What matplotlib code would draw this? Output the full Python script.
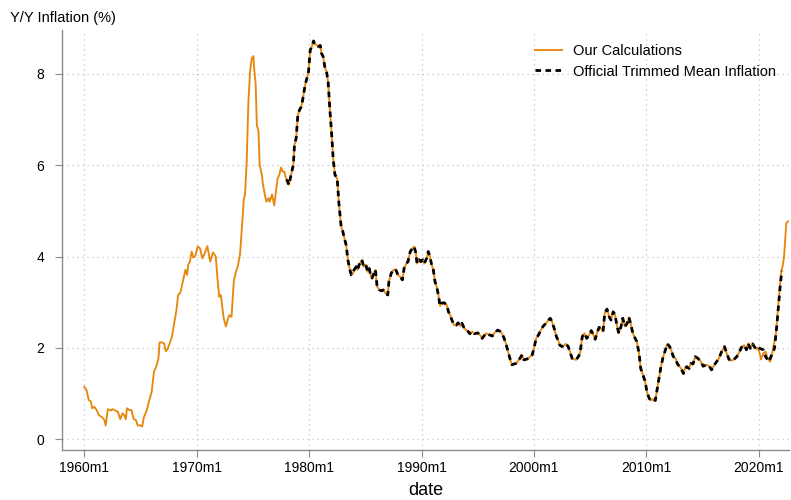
import numpy as np
import matplotlib
matplotlib.use("Agg")
import matplotlib.pyplot as plt

plt.rcParams['font.family'] = ['Liberation Sans', 'DejaVu Sans']

# our calculations (decimal year, y/y %)
ours_date = [
    1960.0, 1960.2, 1960.4, 1960.6, 1960.7, 1960.9, 1961.1, 1961.3, 1961.55, 1961.8,
    1961.9, 1962.1, 1962.4, 1962.5, 1962.7, 1963.0, 1963.2, 1963.4, 1963.55, 1963.7,
    1963.8, 1964.0, 1964.2, 1964.4, 1964.6, 1964.75, 1964.95, 1965.15, 1965.3, 1965.55,
    1965.75, 1966.0, 1966.2, 1966.4, 1966.6, 1966.7, 1966.95, 1967.1, 1967.25, 1967.4,
    1967.6, 1967.8, 1968.0, 1968.2, 1968.35, 1968.55, 1968.7, 1968.85, 1969.0, 1969.15,
    1969.25, 1969.4, 1969.55, 1969.7, 1969.85, 1970.1, 1970.3, 1970.5, 1970.7, 1970.95,
    1971.2, 1971.45, 1971.7, 1971.85, 1972.0, 1972.15, 1972.4, 1972.6, 1972.75, 1972.9,
    1973.1, 1973.3, 1973.45, 1973.65, 1973.85, 1974.0, 1974.2, 1974.3, 1974.45, 1974.6,
    1974.75, 1974.9, 1975.05, 1975.1, 1975.25, 1975.35, 1975.5, 1975.6, 1975.8, 1975.9,
    1976.1, 1976.2, 1976.4, 1976.5, 1976.7, 1976.8, 1976.9, 1977.05, 1977.2, 1977.35,
    1977.5, 1977.65, 1977.8, 1977.9, 1978.0, 1978.2, 1978.4, 1978.6, 1978.7, 1978.85,
    1979.0, 1979.15, 1979.3, 1979.4, 1979.5, 1979.65, 1979.8, 1979.95, 1980.1, 1980.25,
    1980.4, 1980.5, 1980.7, 1980.8, 1981.0, 1981.1, 1981.25, 1981.4, 1981.55, 1981.7,
    1981.85, 1982.0, 1982.15, 1982.3, 1982.5, 1982.65, 1982.85, 1983.0, 1983.1, 1983.3,
    1983.45, 1983.6, 1983.75, 1983.9, 1984.0, 1984.2, 1984.3, 1984.45, 1984.7, 1984.85,
    1985.05, 1985.2, 1985.35, 1985.5, 1985.6, 1985.75, 1985.9, 1986.05, 1986.25, 1986.45,
    1986.6, 1986.8, 1987.0, 1987.1, 1987.3, 1987.5, 1987.7, 1987.9, 1988.1, 1988.3,
    1988.45, 1988.65, 1988.8, 1989.0, 1989.2, 1989.35, 1989.5, 1989.6, 1989.8, 1989.95,
    1990.1, 1990.25, 1990.45, 1990.6, 1990.75, 1990.9, 1991.05, 1991.2, 1991.35, 1991.5,
    1991.65, 1991.8, 1992.0, 1992.25, 1992.4, 1992.55, 1992.7, 1992.9, 1993.1, 1993.25,
    1993.45, 1993.6, 1993.8, 1993.95, 1994.15, 1994.3, 1994.5, 1994.7, 1994.85, 1995.0,
    1995.2, 1995.4, 1995.55, 1995.75, 1995.9, 1996.1, 1996.3, 1996.45, 1996.6, 1996.8,
    1997.0, 1997.15, 1997.35, 1997.5, 1997.7, 1997.9, 1998.05, 1998.25, 1998.4, 1998.6,
    1998.75, 1998.95, 1999.1, 1999.3, 1999.5, 1999.65, 1999.85, 2000.0, 2000.2, 2000.4,
    2000.55, 2000.75, 2000.9, 2001.1, 2001.25, 2001.45, 2001.6, 2001.8, 2002.0, 2002.15,
    2002.3, 2002.5, 2002.7, 2002.85, 2003.05, 2003.2, 2003.4, 2003.6, 2003.75, 2003.95,
    2004.1, 2004.3, 2004.5, 2004.7, 2004.9, 2005.1, 2005.3, 2005.45, 2005.6, 2005.8,
    2005.95, 2006.15, 2006.3, 2006.5, 2006.7, 2006.85, 2007.05, 2007.2, 2007.4, 2007.55,
    2007.75, 2007.9, 2008.1, 2008.3, 2008.45, 2008.6, 2008.8, 2009.0, 2009.15, 2009.35,
    2009.5, 2009.7, 2009.9, 2010.05, 2010.25, 2010.4, 2010.6, 2010.8, 2010.95, 2011.15,
    2011.3, 2011.5, 2011.7, 2011.85, 2012.05, 2012.2, 2012.4, 2012.6, 2012.75, 2012.95,
    2013.1, 2013.3, 2013.45, 2013.6, 2013.8, 2013.95, 2014.15, 2014.35, 2014.6, 2014.85,
    2015.05, 2015.35, 2015.6, 2015.8, 2016.05, 2016.25, 2016.45, 2016.7, 2016.95, 2017.15,
    2017.35, 2017.6, 2017.8, 2018.05, 2018.3, 2018.45, 2018.7, 2018.9, 2019.05, 2019.25,
    2019.45, 2019.6, 2019.8, 2019.95, 2020.2, 2020.4, 2020.6, 2020.8, 2021.0, 2021.15,
    2021.3, 2021.5, 2021.7, 2021.85, 2022.0, 2022.15, 2022.25, 2022.35, 2022.45, 2022.6,
]
ours_val = [
    1.15, 1.08, 0.86, 0.82, 0.68, 0.71, 0.64, 0.53, 0.49, 0.42,
    0.30, 0.66, 0.63, 0.66, 0.64, 0.60, 0.44, 0.57, 0.53, 0.44,
    0.68, 0.64, 0.64, 0.44, 0.42, 0.30, 0.31, 0.28, 0.48, 0.63,
    0.82, 1.04, 1.48, 1.59, 1.77, 2.12, 2.12, 2.10, 1.93, 1.97,
    2.10, 2.25, 2.54, 2.83, 3.16, 3.21, 3.38, 3.56, 3.71, 3.60,
    3.82, 3.89, 4.11, 3.98, 4.00, 4.22, 4.18, 3.96, 4.06, 4.23,
    3.89, 4.09, 4.00, 3.52, 3.12, 3.16, 2.65, 2.47, 2.61, 2.72,
    2.68, 3.45, 3.63, 3.78, 4.03, 4.55, 5.28, 5.35, 6.08, 7.39,
    8.05, 8.34, 8.39, 8.16, 7.76, 6.88, 6.74, 6.01, 5.79, 5.57,
    5.31, 5.20, 5.28, 5.20, 5.36, 5.24, 5.12, 5.42, 5.71, 5.79,
    5.95, 5.86, 5.86, 5.75, 5.69, 5.57, 5.79, 6.01, 6.45, 6.59,
    7.10, 7.21, 7.28, 7.39, 7.54, 7.76, 7.90, 8.05, 8.52, 8.60,
    8.72, 8.65, 8.63, 8.60, 8.62, 8.45, 8.38, 8.15, 8.05, 7.80,
    7.21, 6.70, 6.12, 5.79, 5.71, 5.17, 4.66, 4.55, 4.44, 4.25,
    3.93, 3.74, 3.60, 3.63, 3.71, 3.78, 3.71, 3.82, 3.93, 3.78,
    3.82, 3.67, 3.74, 3.56, 3.53, 3.63, 3.71, 3.34, 3.27, 3.25,
    3.27, 3.20, 3.16, 3.45, 3.63, 3.71, 3.72, 3.60, 3.56, 3.49,
    3.74, 3.85, 3.89, 4.11, 4.18, 4.22, 4.07, 3.85, 3.93, 3.89,
    3.93, 3.85, 3.96, 4.11, 4.00, 3.82, 3.71, 3.45, 3.34, 3.16,
    2.92, 2.98, 2.99, 2.94, 2.79, 2.72, 2.61, 2.50, 2.50, 2.55,
    2.48, 2.54, 2.43, 2.39, 2.36, 2.31, 2.36, 2.31, 2.32, 2.33,
    2.28, 2.21, 2.26, 2.32, 2.30, 2.28, 2.26, 2.32, 2.36, 2.39,
    2.36, 2.32, 2.21, 2.10, 1.92, 1.74, 1.63, 1.65, 1.66, 1.72,
    1.77, 1.85, 1.74, 1.75, 1.77, 1.81, 1.85, 1.99, 2.21, 2.28,
    2.36, 2.45, 2.50, 2.54, 2.60, 2.65, 2.58, 2.43, 2.25, 2.17,
    2.06, 2.03, 2.06, 2.09, 2.03, 1.92, 1.77, 1.75, 1.74, 1.81,
    1.88, 2.25, 2.32, 2.21, 2.28, 2.38, 2.28, 2.19, 2.32, 2.45,
    2.43, 2.36, 2.76, 2.85, 2.68, 2.61, 2.79, 2.74, 2.47, 2.32,
    2.47, 2.65, 2.47, 2.54, 2.67, 2.54, 2.32, 2.21, 2.14, 1.88,
    1.55, 1.41, 1.26, 1.04, 0.90, 0.85, 0.88, 0.85, 1.08, 1.37,
    1.59, 1.81, 1.96, 2.09, 2.04, 1.96, 1.81, 1.77, 1.66, 1.59,
    1.55, 1.44, 1.55, 1.59, 1.55, 1.66, 1.65, 1.81, 1.77, 1.70,
    1.60, 1.63, 1.60, 1.52, 1.63, 1.70, 1.77, 1.92, 2.03, 1.88,
    1.75, 1.72, 1.75, 1.81, 1.92, 2.01, 2.06, 1.96, 2.10, 1.99,
    2.09, 2.03, 1.97, 2.01, 1.75, 1.88, 1.92, 1.77, 1.70, 1.81,
    2.03, 2.25, 2.83, 3.27, 3.67, 3.82, 4.00, 4.36, 4.73, 4.77,
]

# official series: coincides with ours from 1978m1 to 2019m12, then its own tail
official_start = 1978.0
official_end = 2019.95
official_tail_date = [2020.1, 2020.4, 2020.6, 2020.9, 2021.15, 2021.4, 2021.6, 2021.75, 2021.9, 2022.05]
official_tail_val = [1.99, 1.96, 1.81, 1.70, 1.85, 1.99, 2.47, 2.90, 3.34, 3.69]

xticks = [1960, 1970, 1980, 1990, 2000, 2010, 2020]
xticklabels = [f"{y}m1" for y in xticks]
yticks = [0, 2, 4, 6, 8]

ours_date = np.array(ours_date)
ours_val = np.array(ours_val)
mask = (ours_date >= official_start) & (ours_date <= official_end)
off_date = np.concatenate([ours_date[mask], official_tail_date])
off_val = np.concatenate([ours_val[mask], official_tail_val])

fig = plt.figure(figsize=(7.91, 5.0), dpi=100)
ax = fig.add_axes([62 / 791, 50 / 500, 727 / 791, 420 / 500])

orange = '#e8870e'
ax.plot(ours_date, ours_val, color=orange, lw=1.35, label='Our Calculations', zorder=3)
ax.plot(off_date, off_val, color='black', lw=2.0, ls=(0, (2, 1.6)),
        label='Official Trimmed Mean Inflation', zorder=4)

ax.set_xlim(1958.02, 2022.69)
ax.set_ylim(-0.234, 8.96)
ax.set_xticks(xticks)
ax.set_xticklabels(xticklabels)
ax.set_yticks(yticks)

gray = '#8c8c8c'
for s in ['top', 'right']:
    ax.spines[s].set_visible(False)
for s in ['left', 'bottom']:
    ax.spines[s].set_color(gray)
    ax.spines[s].set_linewidth(1.0)
ax.tick_params(axis='both', colors=gray, labelcolor='black', labelsize=10, length=5, width=0.8)
ax.tick_params(axis='y', pad=8)
ax.tick_params(axis='x', pad=3)
ax.grid(True, color='#c4c4c4', ls=(0, (1, 3)), lw=0.9)
ax.set_axisbelow(True)

ax.set_xlabel('date', fontsize=13, labelpad=5)
fig.text(10 / 791, 1 - 18 / 500, 'Y/Y Inflation (%)', fontsize=10.5, ha='left', va='center')

ax.legend(loc='upper left', bbox_to_anchor=(535 / 791, 1 - 44 / 500), bbox_transform=fig.transFigure,
          frameon=False, fontsize=10.5, handlelength=1.85, handletextpad=0.75,
          labelspacing=0.45, borderpad=0, borderaxespad=0)

fig.savefig('out.png', dpi=100)
